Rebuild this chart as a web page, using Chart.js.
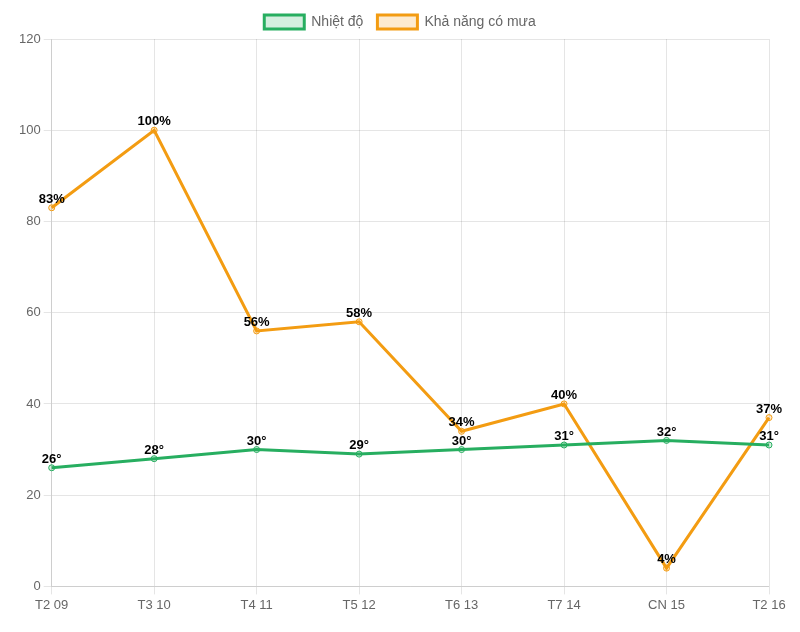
<!DOCTYPE html>
<html>
<head>
<meta charset="utf-8">
<script src="https://cdn.jsdelivr.net/npm/chart.js@4"></script>
<style>
  html, body { margin: 0; padding: 0; background: #fff; }
  #wrap { width: 800px; height: 632px; }
</style>
</head>
<body>
<div id="wrap"><canvas id="weatherChart"></canvas></div>
<script>
// ===== Data =====
const days = ["T2 09", "T3 10", "T4 11", "T5 12", "T6 13", "T7 14", "CN 15", "T2 16"];
const nhietDo = [26, 28, 30, 29, 30, 31, 32, 31];
const khaNangMua = [83, 100, 56, 58, 34, 40, 4, 37];
const yTicks = { min: 0, max: 120, step: 20 };

// ===== Labels on points =====
const pointLabels = {
  id: "pointLabels",
  afterDatasetsDraw(chart) {
    const ctx = chart.ctx;
    ctx.save();
    ctx.font = "bold 13px 'Liberation Sans', Arial, sans-serif";
    ctx.fillStyle = "#000";
    ctx.textAlign = "center";
    ctx.textBaseline = "bottom";
    chart.data.datasets.forEach((ds, i) => {
      const meta = chart.getDatasetMeta(i);
      meta.data.forEach((pt, j) => {
        ctx.fillText(ds.data[j] + ds.suffix, pt.x, pt.y - 2);
      });
    });
    ctx.restore();
  },
};

// center the legend on the page, not on the padded area
const centerLegend = {
  id: "centerLegend",
  afterLayout(chart) {
    const shift = (chart.width - (chart.legend.left + chart.legend.right)) / 2;
    chart.legend.left += shift;
    chart.legend.right += shift;
  },
};

Chart.defaults.font.family = "'Liberation Sans', Arial, sans-serif";
Chart.defaults.font.size = 13;
Chart.defaults.color = "#666";

new Chart(document.getElementById("weatherChart"), {
  type: "line",
  data: {
    labels: days,
    datasets: [
      {
        label: "Nhiệt độ",
        data: nhietDo,
        suffix: "°",
        borderColor: "#27ae60",
        backgroundColor: "rgba(39,174,96,0.2)",
        borderWidth: 3,
        pointRadius: 3,
        pointBorderWidth: 1,
        tension: 0,
      },
      {
        label: "Khả năng có mưa",
        data: khaNangMua,
        suffix: "%",
        borderColor: "#f39c12",
        backgroundColor: "rgba(243,156,18,0.2)",
        borderWidth: 3,
        pointRadius: 3,
        pointBorderWidth: 1,
        tension: 0,
      },
    ],
  },
  options: {
    responsive: true,
    maintainAspectRatio: false,
    animation: false,
    layout: { padding: { left: 16, right: 31, top: 1, bottom: 16 } },
    plugins: {
      legend: { position: "top", labels: { font: { size: 14 }, padding: 14 } },
      tooltip: { enabled: false },
    },
    scales: {
      y: {
        min: yTicks.min,
        max: yTicks.max,
        ticks: { stepSize: yTicks.step },
      },
    },
  },
  plugins: [pointLabels, centerLegend],
});
</script>
</body>
</html>
